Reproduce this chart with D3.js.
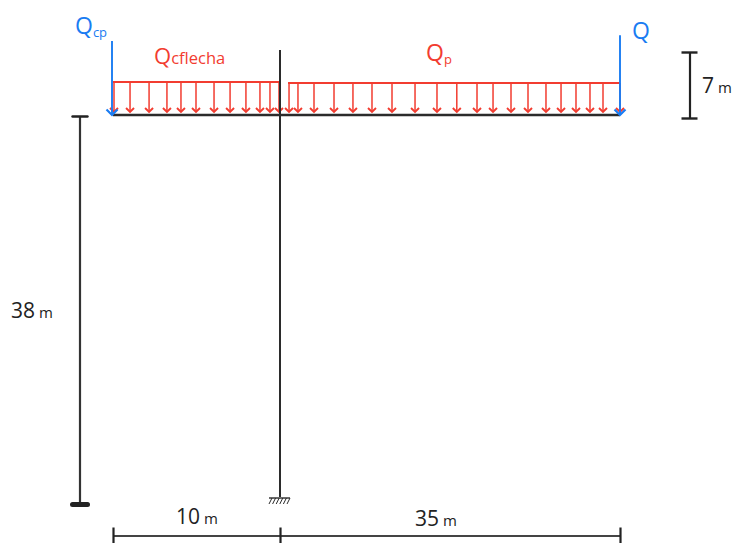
<!DOCTYPE html>
<html>
<head>
    <script src="https://cdn.jsdelivr.net/npm/d3@7/dist/d3.min.js"></script>
    <style>
        body { margin: 0; background: #fff; }
        text { font-family: "Open Sans", sans-serif; font-weight: 400; }
    </style>
</head>
<body>
<script>

    // beam stations in metres, 0 is the column
    var stations = [-10, 0, 35];
    var arrowsFlecha = [-9.94, -8.98, -7.84, -6.77, -5.93, -5.03, -3.95, -2.99, -2.04, -1.2, -0.6, -0.06];
    var arrowsP = [0.93, 1.85, 3.5, 5.56, 7.51, 9.47, 11.53, 13.9, 16.16, 18.2, 20.28, 21.93, 23.78, 25.53, 27.38, 28.93, 30.47, 31.91, 33.25, 35];

    // relative load sizes
    var loadFlecha = 1;
    var loadP = 0.97;
    var pointLoads = [2.24, 2.42];
    var pointStations = [-10, 35];

    var columnHeight = 38;
    var upperHeight = 7;
    var dimLabels = ["10", "35", "38", "7"];

    var red = "#f23c30", blue = "#1a7cf2", black = "#2b2b2b";

    var svg = d3.select("body").append("svg")
                .attr("width", 732)
                .attr("height", 543)
                .style("display", "block");

    // the drawing is not to scale, so x is piecewise
    var x = d3.scaleLinear().domain(stations).range([113, 280, 620]);
    var y = d3.scaleLinear().domain([0, columnHeight]).range([115, 503]);
    var yLoad = d3.scaleLinear().domain([0, 1]).range([115, 82]);
    var yUpper = d3.scaleLinear().domain([0, upperHeight]).range([118, 52]);

    function seg(g, x1, y1, x2, y2, color, w) {
        return g.append("line")
                .attr("x1", x1).attr("y1", y1)
                .attr("x2", x2).attr("y2", y2)
                .attr("stroke", color)
                .attr("stroke-width", w);
    }

    function arrowHead(g, cx, tip, size, color, w) {
        g.append("path")
         .attr("d", `M${cx - size},${tip - size} L${cx},${tip} L${cx + size},${tip - size}`)
         .attr("fill", "none")
         .attr("stroke", color)
         .attr("stroke-width", w);
    }

    // distributed loads
    var loads = svg.append("g");
    seg(loads, x(-10), yLoad(loadFlecha), x(0), yLoad(loadFlecha), red, 1.8);
    seg(loads, x(arrowsP[0]) - 1, yLoad(loadP), x(35), yLoad(loadP), red, 1.8);

    function drawArrows(data, level) {
        data.forEach((d) => {
            seg(loads, x(d), yLoad(level), x(d), yLoad(0) - 3, red, 1.5);
            arrowHead(loads, x(d), yLoad(0) - 3, 4, red, 1.9);
        });
    }
    drawArrows(arrowsFlecha, loadFlecha);
    drawArrows(arrowsP, loadP);

    // structure
    var frame = svg.append("g");
    seg(frame, x(-10), y(0), x(35), y(0), black, 2.4);
    seg(frame, x(0), 50, x(0), y(columnHeight) - 6, black, 2);

    // fixed support
    seg(frame, x(0) - 11, 498, x(0) + 10, 498, black, 1.4);
    d3.range(6).forEach((i) => {
        var hx = x(0) - 8 + i * 3.6;
        seg(frame, hx, 498, hx - 3, 504, black, 1);
    });

    // point loads
    var points = svg.append("g");
    pointLoads.forEach((d, i) => {
        var px = x(pointStations[i]) - (i == 0 ? 1 : 0);
        seg(points, px, yLoad(d), px, yLoad(0), blue, 1.9);
        arrowHead(points, px, yLoad(0), 5.5, blue, 2.2);
    });

    // dimension lines
    var bottomAxis = d3.axisBottom(x)
                       .tickValues(stations)
                       .tickFormat("")
                       .tickSize(8)
                       .tickSizeOuter(0);
    var dimX = svg.append("g")
                  .attr("transform", "translate(0,535.5)")
                  .call(bottomAxis);
    dimX.selectAll(".tick line").attr("y1", -8).attr("stroke", "#222").attr("stroke-width", 2.2);
    dimX.select(".domain").attr("stroke", "#444").attr("stroke-width", 2);

    var leftAxis = d3.axisLeft(y)
                     .tickValues([0, columnHeight])
                     .tickFormat("")
                     .tickSize(0);
    var dimY = svg.append("g")
                  .attr("transform", "translate(79.5,1)")
                  .call(leftAxis);
    dimY.select(".domain").attr("stroke", "#333").attr("stroke-width", 2.2);
    dimY.selectAll(".tick line")
        .attr("x1", -7).attr("x2", 8)
        .attr("stroke", "#222")
        .attr("stroke-width", (d) => d == 0 ? 2.4 : 5)
        .attr("stroke-linecap", "round");

    var rightAxis = d3.axisRight(yUpper)
                      .tickValues([0, upperHeight])
                      .tickFormat("")
                      .tickSize(0);
    var dimUp = svg.append("g")
                   .attr("transform", "translate(689.5,0)")
                   .call(rightAxis);
    dimUp.select(".domain").attr("stroke", "#222").attr("stroke-width", 2.2);
    dimUp.selectAll(".tick line")
         .attr("x1", -8).attr("x2", 8)
         .attr("stroke", "#222")
         .attr("stroke-width", 2.4);

    // labels
    function label(px, py, big, small, color, size, sub, dy) {
        var t = svg.append("text")
                   .attr("x", px).attr("y", py)
                   .attr("fill", color)
                   .attr("font-size", size);
        t.append("tspan").text(big);
        if (small) {
            t.append("tspan")
             .attr("font-size", sub)
             .attr("dy", dy)
             .text(small);
        }
    }

    label(75, 34, "Q", "cp", blue, 23, 13, 3);
    label(154, 64, "Q", "cflecha", red, 22, 16.5, 0);
    label(426, 61, "Q", "p", red, 23, 13, 3);
    label(632, 39, "Q", null, blue, 23);
    label(176, 524, dimLabels[0], " m", "#222", 21, 15, 0);
    label(415, 526, dimLabels[1], " m", "#222", 21, 15, 0);
    label(11, 318, dimLabels[2], " m", "#222", 21, 15, 0);
    label(702, 93, dimLabels[3], " m", "#222", 21, 15, 0);

</script>

</body>
</html>
